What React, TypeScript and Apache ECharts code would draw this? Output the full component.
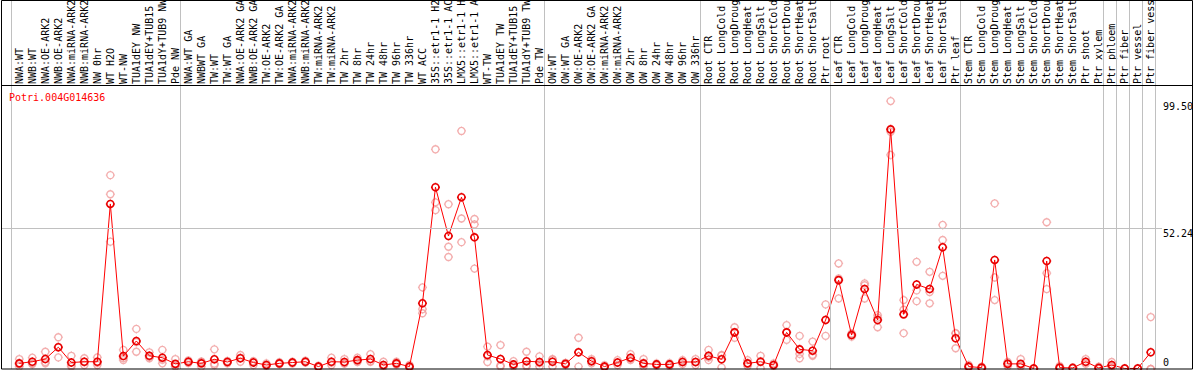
import React, { useEffect, useRef } from "react";
import * as echarts from "echarts";

const title = "Potri.004G014636";

const categories = [
  "NWA:WT", "NWB:WT", "NWA:OE-ARK2", "NWB:OE-ARK2", "NWA:miRNA-ARK2", "NWB:miRNA-ARK2",
  "NW 0hr", "WT H2O", "WT-NW", "TUA1dEY NW", "TUA1dEY+TUB15 NW", "TUA1dY+TUB9 NW", "Pde NW",
  "NWA:WT GA", "NWBWT GA", "TW:WT", "TW:WT GA", "NWA:OE-ARK2 GA", "NWB:OE-ARK2 GA",
  "TW:OE-ARK2", "TW:OE-ARK2 GA", "NWA:miRNA-ARK2", "NWB:miRNA-ARK2", "TW:miRNA-ARK2",
  "TW:miRNA-ARK2", "TW 2hr", "TW 8hr", "TW 24hr", "TW 48hr", "TW 96hr", "TW 336hr", "WT ACC",
  "35S::etr1-1 H2O", "35S::etr1-1 ACC", "LMX5::etr1-1 H2O", "LMX5::etr1-1 ACC", "WT-TW",
  "TUA1dEY TW", "TUA1dEY+TUB15 TW", "TUA1dY+TUB9 TW", "Pde TW",
  "OW:WT", "OW:WT GA", "OW:OE-ARK2", "OW:OE-ARK2 GA", "OW:miRNA-ARK2", "OW:miRNA-ARK2",
  "OW 2hr", "OW 8hr", "OW 24hr", "OW 48hr", "OW 96hr", "OW 336hr",
  "Root CTR", "Root LongCold", "Root LongDrought", "Root LongHeat", "Root LongSalt",
  "Root ShortCold", "Root ShortDrought", "Root ShortHeat", "Root ShortSalt", "Ptr root",
  "Leaf CTR", "Leaf LongCold", "Leaf LongDrought", "Leaf LongHeat", "Leaf LongSalt",
  "Leaf ShortCold", "Leaf ShortDrought", "Leaf ShortHeat", "Leaf ShortSalt", "Ptr leaf",
  "Stem CTR", "Stem LongCold", "Stem LongDrought", "Stem LongHeat", "Stem LongSalt",
  "Stem ShortCold", "Stem ShortDrought", "Stem ShortHeat", "Stem ShortSalt",
  "Ptr shoot", "Ptr xylem", "Ptr phloem", "Ptr fiber", "Ptr vessel", "Ptr fiber vessel",
];

const meanValues = [
  2.1, 2.7, 3.7, 8.1, 2.4, 2.7, 2.7, 61.3, 4.8, 10.4, 4.9, 4.2, 1.9,
  2.7, 2.1, 3.6, 2.6, 4.0, 2.4, 1.5, 2.1, 2.4, 2.7, 0.9, 2.7, 2.6, 3.3, 3.7, 1.5, 2.1, 0.9,
  24.4, 67.5, 49.4, 63.8, 48.9, 5.2, 3.7, 1.7, 2.9, 2.6,
  2.7, 1.9, 6.2, 2.9, 0.9, 2.4, 4.2, 2.1, 1.7, 1.7, 2.6, 2.6,
  4.9, 3.6, 13.6, 2.1, 2.7, 1.5, 13.6, 7.3, 6.8, 18.2,
  33.0, 12.6, 29.7, 18.2, 89.0, 20.3, 31.4, 29.7, 45.2, 11.4,
  0.9, 0.5, 40.5, 1.9, 1.9, 0.2, 40.1, 0.5, 0.4, 2.7,
  0.4, 1.5, 0.2, 0.2, 6.2,
];

const rep1 = [
  3.7, 4.2, 6.4, 11.8, 4.9, 4.0, 4.3, 72.0, 7.1, 14.9, 4.5, 7.1, 3.7,
  2.7, 2.7, 7.3, 2.7, 5.2, 1.5, 2.1, 2.5, 2.7, 2.4, 0.9, 4.2, 3.7, 4.2, 5.5, 2.7, 2.7, 1.5,
  30.3, 81.6, 61.2, 88.4, 55.7, 8.3, 8.9, 2.9, 6.4, 4.7,
  3.7, 2.3, 11.6, 3.7, 1.4, 3.3, 5.5, 3.7, 2.1, 2.2, 3.3, 3.7,
  7.1, 5.2, 15.5, 3.3, 4.9, 2.1, 16.3, 12.3, 10.2, 24.0,
  39.2, 13.2, 31.8, 20.0, 99.5, 25.6, 39.8, 36.1, 53.5, 13.3,
  1.5, 0.9, 61.5, 2.6, 3.7, 0.3, 54.5, 1.1, 0.6, 3.7,
  0.9, 2.6, 0.3, 0.3, 19.3,
];

const rep2 = [
  0.9, 2.1, 2.1, 4.3, 0.9, 1.5, 1.5, 64.9, 3.3, 6.4, 4.0, 2.1, 0.9,
  3.2, 0.9, 1.5, 3.0, 2.7, 2.8, 1.0, 1.8, 2.0, 3.1, 1.2, 1.5, 2.0, 2.6, 2.7, 0.8, 1.6, 0.6,
  20.7, 61.9, 45.4, 55.9, 53.7, 2.6, 0.9, 0.9, 0.9, 0.9,
  0.9, 1.5, 0.9, 2.1, 0.6, 1.5, 3.3, 0.9, 1.2, 1.1, 1.8, 1.5,
  3.3, 0.6, 11.6, 1.1, 0.3, 1.0, 10.8, 4.0, 4.9, 12.3,
  26.2, 12.0, 26.2, 15.5, 88.1, 13.3, 25.2, 24.4, 47.9, 7.7,
  0.6, 0.3, 34.0, 1.0, 0.9, 0.1, 35.6, 0.2, 0.3, 1.9,
  0.2, 0.8, 0.1, 0.1, 0.0,
];

const rep3 = [
  1.7, 1.8, 2.6, 8.2, 1.4, 2.6, 2.3, 47.3, 4.0, 10.0, 6.2, 3.4, 1.1,
  2.2, 2.7, 2.0, 2.1, 4.1, 2.9, 1.4, 2.0, 2.5, 2.6, 0.6, 2.4, 2.1, 3.1, 2.9, 1.0, 2.0, 0.6,
  22.2, 59.0, 41.6, 47.1, 37.3, 4.7, 1.3, 1.3, 1.4, 2.2,
  3.5, 1.9, 6.1, 2.9, 0.7, 2.4, 3.8, 1.7, 1.8, 1.8, 2.7, 2.6,
  4.3, 5.0, 13.7, 1.9, 2.9, 1.4, 13.7, 5.6, 5.3, 18.3,
  33.6, 12.6, 31.1, 19.1, 79.5, 22.0, 29.2, 28.6, 34.6, 13.2,
  0.6, 0.3, 25.6, 2.1, 1.1, 0.2, 29.7, 0.2, 0.3, 2.5,
  0.1, 1.1, 0.2, 0.2, 0.0,
];

// indices of the first category of each panel (and the end)
const groupStarts = [0, 13, 41, 53, 63, 73, 84, 85, 86, 87, 88];

const yMarkValues = [99.5, 52.24, 0];
const yMarkLabels = ["99.50", "52.24", "0"];
const gridLineValue = 52.24;

const markerPath =
  "path://M4.5,1C6.433,1,8,2.567,8,4.5C8,6.433,6.433,8,4.5,8C2.567,8,1,6.433,1,4.5C1,2.567,2.567,1,4.5,1Z" +
  "M4.5,0L4.5,1M4.5,8L4.5,9M0,4.5L1,4.5M8,4.5L9,4.5";

export default function App() {
  const ref = useRef<HTMLDivElement>(null);

  useEffect(() => {
    if (!ref.current) return;
    const chart = echarts.init(ref.current, null, { renderer: "svg" });

    const plotLeft = 1;
    const plotRight = 1162;
    const plotBottom = 369;
    const sepY = 85;
    const x0 = 19.3;
    const step = 13.005;
    const xMin = (plotLeft - x0) / step;
    const xMax = (plotRight - x0) / step;
    const yAtSep = 99.5 * 1.06;
    const yMax = (yAtSep * plotBottom) / (plotBottom - sepY);
    const mono = '"DejaVu Sans Mono", monospace';

    const repData = (arr: number[]) => arr.map((v, i) => [i, v]);

    const option: any = {
      animation: false,
      backgroundColor: "#ffffff",
      grid: [
        { left: plotLeft, top: 0, width: plotRight - plotLeft, height: plotBottom, containLabel: false },
        { left: x0 - step / 2, top: sepY, width: step * categories.length, height: 1, containLabel: false },
      ],
      xAxis: [
        { type: "value", gridIndex: 0, min: xMin, max: xMax, show: false },
        {
          type: "category",
          gridIndex: 1,
          position: "top",
          data: categories,
          boundaryGap: true,
          axisLine: { show: false },
          axisTick: { show: false },
          splitLine: { show: false },
          axisLabel: {
            rotate: 90,
            interval: 0,
            margin: 2,
            fontFamily: mono,
            fontSize: 10,
            color: "#000",
          },
        },
      ],
      yAxis: [
        { type: "value", gridIndex: 0, min: 0, max: yMax, show: false },
        { type: "value", gridIndex: 1, show: false },
      ],
      series: [
        {
          type: "line",
          xAxisIndex: 0,
          yAxisIndex: 0,
          data: [],
          silent: true,
          markLine: {
            silent: true,
            symbol: "none",
            label: { show: false },
            lineStyle: { color: "#c0c0c0", width: 1, type: "solid" },
            data: [
              ...groupStarts.map((k) => ({ xAxis: k - 0.65 })),
              { yAxis: gridLineValue },
            ],
          },
        },
        ...[rep1, rep2, rep3].map((arr) => ({
          type: "scatter",
          xAxisIndex: 0,
          yAxisIndex: 0,
          data: repData(arr),
          symbol: markerPath,
          symbolSize: 9,
          z: 2,
          itemStyle: { color: "rgba(0,0,0,0)", borderColor: "#f09a9a", borderWidth: 1.3 },
        })),
        {
          type: "line",
          xAxisIndex: 0,
          yAxisIndex: 0,
          data: meanValues.map((v, i) => [i, v]),
          symbol: markerPath,
          symbolSize: 9,
          showAllSymbol: true,
          z: 3,
          lineStyle: { color: "#ff0000", width: 1 },
          itemStyle: { color: "rgba(0,0,0,0)", borderColor: "#e80000", borderWidth: 1.6 },
        },
      ],
    };

    chart.setOption(option);

    const yLabelX = 1163;
    const yLabels = yMarkValues.map((v, i) => {
      const py = chart.convertToPixel({ xAxisIndex: 0, yAxisIndex: 0 } as any, [0, v])[1];
      return {
        type: "text",
        x: yLabelX,
        y: v === 0 ? py - 2 : py,
        z: 20,
        style: {
          text: yMarkLabels[i],
          fill: "#000",
          font: `10px ${mono}`,
          textAlign: "left",
          textVerticalAlign: v === 0 ? "bottom" : "top",
        },
      };
    });

    chart.setOption({
      graphic: [
        {
          type: "rect",
          z: 30,
          shape: { x: 1.5, y: 0.5, width: 1191, height: 368.5 },
          style: { fill: "none", stroke: "#000", lineWidth: 1 },
        },
        {
          type: "line",
          z: 30,
          shape: { x1: 1.5, y1: sepY + 0.5, x2: 1192.5, y2: sepY + 0.5 },
          style: { stroke: "#000", lineWidth: 1 },
        },
        {
          type: "text",
          x: 9,
          y: 92,
          z: 20,
          style: { text: title, fill: "#ff0000", font: `10px ${mono}`, textVerticalAlign: "top" },
        },
        ...yLabels,
      ],
    });

    return () => chart.dispose();
  }, []);

  return (
    <div
      ref={ref}
      style={{ position: "fixed", left: 0, top: 0, width: 1194, height: 370, background: "#fff" }}
    />
  );
}
